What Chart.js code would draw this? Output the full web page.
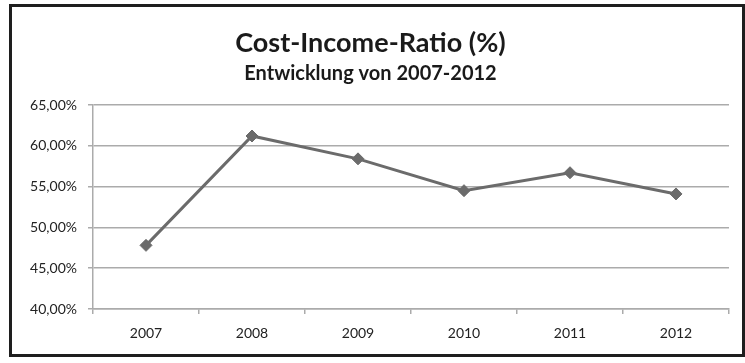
<!DOCTYPE html>
<html lang="de">
<head>
    <meta charset="UTF-8">
    <title>Cost-Income-Ratio</title>
    <style>
        body { margin: 0; background: #fff; }
        #rahmen {
            position: absolute; left: 9px; top: 4px;
            width: 730px; height: 347px;
            border: 3px solid #1e1e1e;
        }
    </style>
</head>
<body>
    <div id="rahmen"><canvas id="chart" width="730" height="347"></canvas></div>

    <script src="https://cdn.jsdelivr.net/npm/chart.js"></script>
    <script>
        const jahre = ["2007", "2008", "2009", "2010", "2011", "2012"]
        const cirWerte = [47.8, 61.2, 58.4, 54.5, 56.7, 54.1]
        const yTicks = [40, 45, 50, 55, 60, 65]

        const grau = '#6b6b6b'
        const gitter = '#ababab'
        const schrift = 'Lato, "Open Sans", sans-serif'

        new Chart(document.getElementById("chart"), {
            type: "line",
            data: {
                labels: jahre,
                datasets: [{
                    label: 'Cost-Income-Ratio',
                    data: cirWerte,
                    borderColor: grau,
                    backgroundColor: grau,
                    borderWidth: 3,
                    pointStyle: 'rectRot',
                    pointRadius: 6,
                    pointBorderWidth: 1,
                    tension: 0,
                    fill: false
                }]
            },
            options: {
                responsive: false,
                animation: false,
                layout: { padding: { left: 0, right: 13, top: 0, bottom: 0 } },
                plugins: {
                    legend: { display: false },
                    tooltip: { enabled: false },
                    title: {
                        display: true,
                        text: 'Cost-Income-Ratio (%)',
                        color: '#1a1a1a',
                        font: { family: schrift, size: 27, weight: 'bold' },
                        padding: { top: 20, bottom: 0 }
                    },
                    subtitle: {
                        display: true,
                        text: 'Entwicklung von 2007-2012',
                        color: '#1a1a1a',
                        font: { family: schrift, size: 20, weight: 'bold' },
                        padding: { top: 2, bottom: 19.6 }
                    }
                },
                scales: {
                    x: {
                        offset: true,
                        afterFit: s => { s.height = 45 },
                        grid: { offset: true, drawOnChartArea: false, drawTicks: true, tickLength: 5, color: gitter, lineWidth: 1.5 },
                        border: { display: true, color: gitter, width: 1.5 },
                        ticks: { color: '#222', padding: 11, font: { family: schrift, size: 14 } }
                    },
                    y: {
                        min: yTicks[0],
                        max: yTicks[yTicks.length - 1],
                        afterFit: s => { s.width = 81 },
                        afterBuildTicks: s => { s.ticks = yTicks.map(v => ({ value: v })) },
                        grid: { color: gitter, lineWidth: 1.5, drawTicks: true, tickLength: 5 },
                        border: { display: true, color: gitter, width: 1.5 },
                        ticks: {
                            color: '#222',
                            padding: 11,
                            font: { family: schrift, size: 14 },
                            callback: v => v.toFixed(2).replace('.', ',') + '%'
                        }
                    }
                }
            }
        })
    </script>
</body>
</html>
